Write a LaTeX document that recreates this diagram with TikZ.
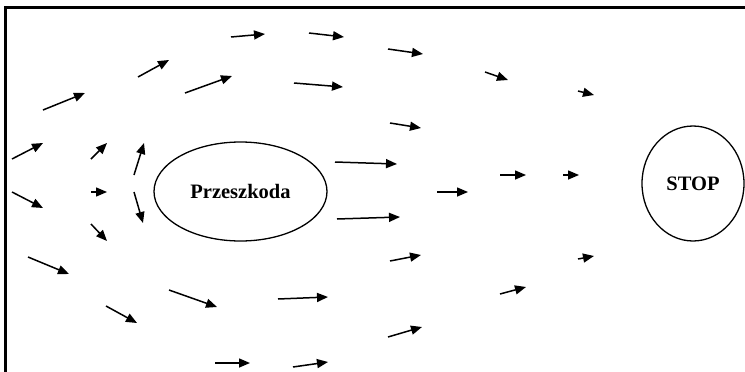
\documentclass[tikz,border=0pt]{standalone}
\usepackage{fontspec}
\setmainfont{Liberation Serif}
\usetikzlibrary{shapes.geometric,arrows.meta}
\begin{document}
\begin{tikzpicture}[x=1pt,y=-1pt,
  flow/.style={line width=1.5pt,-{Triangle[length=11pt,width=9pt]}},
  region/.style={ellipse,draw,line width=1.3pt,inner sep=0pt,font=\bfseries\fontsize{20.5}{24}\selectfont},
  frameline/.style={line width=2.4pt}]
\useasboundingbox (0,0) rectangle (745,372);
% frame (top and left)
\coordinate (fc) at (5.5,7.5);
\coordinate (ft) at (746,7.5);
\coordinate (fb) at (5.5,373);
\draw[frameline] (ft) -- (fc) -- (fb);
% obstacle and stop
\node[region,minimum width=173pt,minimum height=99pt] (obst) at (240.5,191.5) {Przeszkoda};
\node[region,minimum width=102pt,minimum height=115pt] (stop) at (693,183.5) {STOP};
% flow arrows
\foreach \xa/\ya/\xb/\yb [count=\i] in {
  43/110/85/93, 138/77/169/60, 185/93/232/76, 231/37/265/34,
  12/159/43/143, 91/159/107/143, 134/175/144/143,
  12/192/43/208, 91/192/107/192, 134/192/143/223, 91/224/107/241,
  28/257/69/274, 169/290/217/307, 106/306/137/323, 215/363/250/363,
  309/33/344/37, 388/49/423/54, 294/83/343/87, 390/123/421/128,
  335/162/397/164, 485/72/508/80,
  437/192/468/192, 337/219/400/217, 390/261/421/255, 278/299/328/297,
  388/337/422/327, 293/367/328/362,
  578/91/594/95, 500/175/526/175, 563/175/579/175,
  578/259/594/256, 500/294/526/287}
{
  \coordinate (s\i) at (\xa,\ya);
  \coordinate (e\i) at (\xb,\yb);
  \draw[flow] (s\i) -- (e\i);
}
\end{tikzpicture}
\end{document}
